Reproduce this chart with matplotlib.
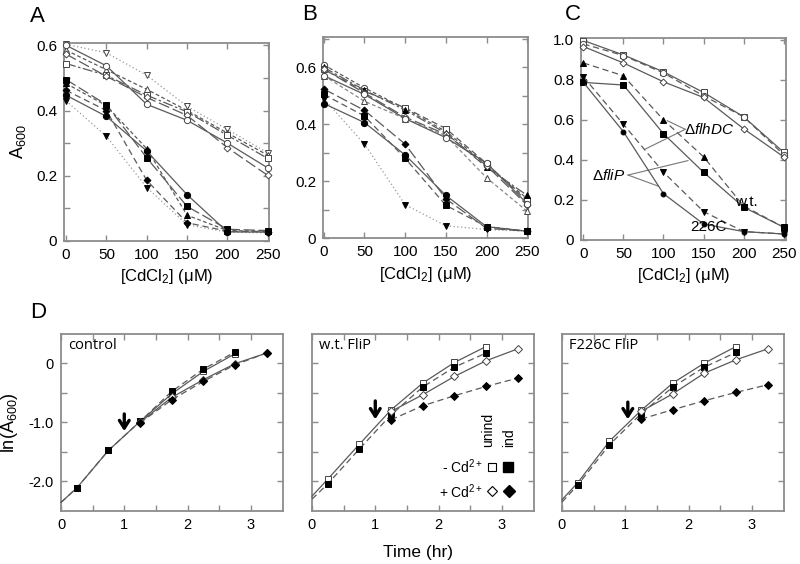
import matplotlib
matplotlib.use('Agg')
import matplotlib.pyplot as plt

plt.rcParams['font.family'] = ['Liberation Sans', 'DejaVu Sans']
plt.rcParams['mathtext.fontset'] = 'custom'
plt.rcParams['mathtext.rm'] = 'Liberation Sans'
plt.rcParams['mathtext.it'] = 'Liberation Sans:italic'
plt.rcParams['mathtext.bf'] = 'Liberation Sans:bold'

# ---------------- data ----------------
cd_conc = [0, 50, 100, 150, 200, 250]
cd_ticks = [0, 50, 100, 150, 200, 250]

# Panel A
A_open_circle = [0.600, 0.537, 0.419, 0.370, 0.300, 0.224]
A_open_square = [0.544, 0.508, 0.447, 0.396, 0.324, 0.253]
A_open_tridown = [0.603, 0.577, 0.508, 0.413, 0.342, 0.270]
A_open_triup = [0.585, 0.525, 0.465, 0.400, 0.331, 0.263]
A_open_diamond = [0.573, 0.505, 0.440, 0.385, 0.286, 0.201]
A_fill_circle = [0.447, 0.382, 0.276, 0.142, 0.028, 0.027]
A_fill_square = [0.495, 0.418, 0.255, 0.106, 0.036, 0.032]
A_fill_triup = [0.483, 0.415, 0.283, 0.079, 0.032, 0.030]
A_fill_diamond = [0.462, 0.400, 0.186, 0.056, 0.030, 0.029]
A_fill_tridown = [0.430, 0.321, 0.164, 0.050, 0.027, 0.025]

# Panel B
B_open_circle = [0.571, 0.505, 0.420, 0.353, 0.264, 0.121]
B_open_square = [0.594, 0.516, 0.458, 0.385, 0.262, 0.130]
B_open_circle2 = [0.609, 0.528, 0.455, 0.375, 0.258, 0.138]
B_open_triup = [0.571, 0.481, 0.420, 0.360, 0.212, 0.094]
B_open_diamond = [0.594, 0.510, 0.425, 0.365, 0.255, 0.115]
B_fill_triup_hi = [0.600, 0.520, 0.450, 0.369, 0.249, 0.150]
B_fill_circle = [0.473, 0.406, 0.292, 0.150, 0.040, 0.024]
B_fill_square = [0.505, 0.429, 0.280, 0.115, 0.040, 0.024]
B_fill_diamond = [0.524, 0.449, 0.330, 0.138, 0.034, 0.024]
B_fill_tridown = [0.490, 0.330, 0.117, 0.043, 0.030, 0.024]

# Panel C
C_open_square = [0.995, 0.923, 0.839, 0.736, 0.615, 0.438]
C_open_circle = [0.978, 0.920, 0.833, 0.719, 0.615, 0.426]
C_open_diamond = [0.965, 0.883, 0.789, 0.711, 0.555, 0.415]
C_fill_triup = [0.883, 0.819, 0.599, 0.415, 0.170, 0.064]
C_fill_square = [0.786, 0.773, 0.530, 0.338, 0.164, 0.064]
C_fill_tridown = [0.814, 0.577, 0.338, 0.142, 0.042, 0.030]
C_fill_circle = [0.786, 0.540, 0.231, 0.080, 0.042, 0.030]

# Panel D (ln A600 vs time); first value at t=0 is the curve start (no marker)
t_minus = [0, 0.25, 0.75, 1.25, 1.75, 2.25, 2.75]
t_plus = [1.25, 1.75, 2.25, 2.75, 3.25]

D_ctrl_unind_minus = [-2.355, -2.11, -1.476, -0.986, -0.52, -0.14, 0.158]
D_ctrl_ind_minus = [-2.355, -2.11, -1.476, -0.986, -0.479, -0.101, 0.186]
D_ctrl_unind_plus = [-1.00, -0.58, -0.28, -0.01, 0.17]
D_ctrl_ind_plus = [-1.01, -0.62, -0.31, -0.028, 0.17]

D_wt_unind_minus = [-2.25, -1.96, -1.37, -0.79, -0.338, 0.01, 0.28]
D_wt_ind_minus = [-2.30, -2.04, -1.45, -0.873, -0.405, -0.068, 0.169]
D_wt_unind_plus = [-0.817, -0.535, -0.226, 0.039, 0.24]
D_wt_ind_plus = [-0.958, -0.721, -0.552, -0.395, -0.254]

D_f226_unind_minus = [-2.31, -2.02, -1.32, -0.80, -0.338, 0.0, 0.28]
D_f226_ind_minus = [-2.35, -2.06, -1.38, -0.856, -0.405, -0.068, 0.18]
D_f226_unind_plus = [-0.817, -0.52, -0.17, 0.056, 0.24]
D_f226_ind_plus = [-0.946, -0.788, -0.636, -0.495, -0.367]

time_ticks = [0, 1, 2, 3]
ln_ticks = [0, -1.0, -2.0]
ln_tick_labels = ['0', '-1.0', '-2.0']
cd_addition_time = [1.0, 1.0, 1.04]

# ---------------- styling helpers ----------------
W, H = 800, 564
fig = plt.figure(figsize=(8, 5.64), dpi=100)

SPINE = '#8c8c8c'
LINE = '#5a5a5a'
LS = {
    'solid': '-',
    'dash': (0, (5, 3)),
    'long': (0, (9, 3)),
    'short': (0, (3, 2)),
    'dot': (0, (1, 2)),
    'dashdot': (0, (8, 2, 2, 2)),
}


def ax_px(l, r, t, b):
    return fig.add_axes([l / W, 1 - b / H, (r - l) / W, (b - t) / H])


def frame(ax):
    for s in ax.spines.values():
        s.set_color(SPINE)
        s.set_linewidth(1.3)
    ax.tick_params(which='both', direction='in', top=True, right=True,
                   length=4, width=1.0, color=SPINE, pad=5)


def series(ax, x, y, marker, filled, ls, ms=4.5, color=LINE, markevery=None, lw=0.9):
    ax.plot(x, y, linestyle=LS[ls], color=color, lw=lw, marker=marker,
            ms=ms, mfc='black' if filled else 'white',
            mec='black' if filled else '#444444', mew=0.7,
            markevery=markevery, clip_on=False, zorder=3)


def style_top(ax, xlim, ylim, yticks, ylabels):
    frame(ax)
    ax.set_xlim(*xlim)
    ax.set_ylim(*ylim)
    ax.set_xticks(cd_ticks)
    ax.set_xticklabels([str(v) for v in cd_ticks], fontsize=11)
    ax.set_yticks(yticks)
    ax.set_yticklabels(ylabels, fontsize=11)
    ax.set_xlabel('[CdCl$_2$] (μM)', fontsize=12, labelpad=4)


# ---------------- Panel A ----------------
axA = ax_px(64, 269, 43, 241)
series(axA, cd_conc, A_open_tridown, 'v', False, 'dot', color='#999999')
series(axA, cd_conc, A_open_triup, '^', False, 'short')
series(axA, cd_conc, A_open_square, 's', False, 'dashdot')
series(axA, cd_conc, A_open_diamond, 'D', False, 'long', ms=3.5)
series(axA, cd_conc, A_open_circle, 'o', False, 'solid')
series(axA, cd_conc, A_fill_tridown, 'v', True, 'dot', color='#999999')
series(axA, cd_conc, A_fill_diamond, 'D', True, 'dash', ms=3.5)
series(axA, cd_conc, A_fill_triup, '^', True, 'short')
series(axA, cd_conc, A_fill_square, 's', True, 'long')
series(axA, cd_conc, A_fill_circle, 'o', True, 'solid')
style_top(axA, (-2.5, 251.5), (0, 0.607), [0, 0.1, 0.2, 0.3, 0.4, 0.5, 0.6],
          ['0', '', '0.2', '', '0.4', '', '0.6'])
axA.set_ylabel('A$_{600}$', fontsize=13, labelpad=6)

# ---------------- Panel B ----------------
axB = ax_px(323, 528, 37, 238)
series(axB, cd_conc, B_open_circle2, 'o', False, 'short')
series(axB, cd_conc, B_open_square, 's', False, 'dash')
series(axB, cd_conc, B_fill_triup_hi, '^', True, 'dashdot')
series(axB, cd_conc, B_open_diamond, 'D', False, 'long', ms=3.5)
series(axB, cd_conc, B_open_triup, '^', False, 'short', color='#888888')
series(axB, cd_conc, B_open_circle, 'o', False, 'solid')
series(axB, cd_conc, B_fill_tridown, 'v', True, 'dot', color='#999999')
series(axB, cd_conc, B_fill_diamond, 'D', True, 'long', ms=3.5)
series(axB, cd_conc, B_fill_square, 's', True, 'dash')
series(axB, cd_conc, B_fill_circle, 'o', True, 'solid')
style_top(axB, (-1, 251), (0, 0.707), [0, 0.1, 0.2, 0.3, 0.4, 0.5, 0.6, 0.7],
          ['0', '', '0.2', '', '0.4', '', '0.6', ''])

# ---------------- Panel C ----------------
axC = ax_px(581, 786, 37.5, 240)
series(axC, cd_conc, C_open_square, 's', False, 'solid')
series(axC, cd_conc, C_open_circle, 'o', False, 'dash')
series(axC, cd_conc, C_open_diamond, 'D', False, 'solid', ms=3.5)
series(axC, cd_conc, C_fill_triup, '^', True, 'dash')
series(axC, cd_conc, C_fill_square, 's', True, 'solid')
series(axC, cd_conc, C_fill_tridown, 'v', True, 'dash')
series(axC, cd_conc, C_fill_circle, 'o', True, 'solid', ms=3.5)
style_top(axC, (-3, 253), (0, 1.01), [0, 0.2, 0.4, 0.6, 0.8, 1.0],
          ['0', '0.2', '0.4', '0.6', '0.8', '1.0'])
ann_kw = dict(color='#777777', lw=0.8)
axC.plot([127.2, 104.8], [0.552, 0.595], **ann_kw)
axC.plot([127.2, 76.5], [0.552, 0.452], **ann_kw)
axC.plot([55.7, 130.6], [0.324, 0.396], **ann_kw)
axC.plot([55.7, 93.2], [0.324, 0.269], **ann_kw)
axC.text(125.5, 0.549, r'$\Delta\mathit{flhDC}$', fontsize=11, ha='left', va='center')
axC.text(52, 0.324, r'$\Delta\mathit{fliP}$', fontsize=11, ha='right', va='center')
axC.text(189, 0.19, 'w.t.', fontsize=11, ha='left', va='center')
axC.text(133, 0.065, '226C', fontsize=11, ha='left', va='center')

# panel letters
fig.text(37 / W, 1 - 16 / H, 'A', fontsize=16, ha='center', va='center')
fig.text(310 / W, 1 - 14 / H, 'B', fontsize=16, ha='center', va='center')
fig.text(573 / W, 1 - 14 / H, 'C', fontsize=16, ha='center', va='center')
fig.text(38 / W, 1 - 313 / H, 'D', fontsize=16, ha='center', va='center')

# ---------------- Panel D ----------------
D_sets = [
    ('control', D_ctrl_unind_minus, D_ctrl_ind_minus, D_ctrl_unind_plus, D_ctrl_ind_plus, 61),
    ('w.t. FliP', D_wt_unind_minus, D_wt_ind_minus, D_wt_unind_plus, D_wt_ind_plus, 312),
    ('F226C FliP', D_f226_unind_minus, D_f226_ind_minus, D_f226_unind_plus, D_f226_ind_plus, 562),
]
arrow_tops = [-0.86, -0.64, -0.66]
arrow_bottoms = [-1.15, -0.95, -0.95]

d_axes = []
for i, (title, um, im, up, ip, left) in enumerate(D_sets):
    ax = ax_px(left, left + 221.5, 333.5, 511)
    d_axes.append(ax)
    frame(ax)
    series(ax, t_minus, um, 's', False, 'solid', ms=5, markevery=list(range(1, len(t_minus))))
    series(ax, t_minus, im, 's', True, 'dash', ms=5, markevery=list(range(1, len(t_minus))))
    series(ax, t_plus, up, 'D', False, 'solid', ms=3.8)
    series(ax, t_plus, ip, 'D', True, 'dash', ms=3.8)
    ax.set_xlim(0, 3.5)
    ax.set_ylim(-2.5, 0.5)
    ax.set_xticks([0, 0.5, 1, 1.5, 2, 2.5, 3])
    ax.set_xticklabels(['0', '', '1', '', '2', '', '3'], fontsize=10.5)
    ax.set_yticks([0, -0.5, -1.0, -1.5, -2.0])
    if i == 0:
        ax.set_yticklabels(['0', '', '-1.0', '', '-2.0'], fontsize=10.5)
        ax.set_ylabel('ln(A$_{600}$)', fontsize=13, labelpad=6)
    else:
        ax.set_yticklabels([])
    ax.text(0.03, 0.93, title, transform=ax.transAxes, fontsize=10.5,
            family=['Open Sans', 'DejaVu Sans'], ha='left', va='center')
    ax.annotate('', xy=(cd_addition_time[i], arrow_bottoms[i]),
                xytext=(cd_addition_time[i], arrow_tops[i]),
                arrowprops=dict(arrowstyle='->,head_length=0.55,head_width=0.35',
                                lw=2.4, color='black', shrinkA=0, shrinkB=0))

# legend inside w.t. panel
axw = d_axes[1]
axw.text(2.79, -1.42, 'unind', rotation=90, ha='center', va='bottom', fontsize=10)
axw.text(3.11, -1.42, 'ind', rotation=90, ha='center', va='bottom', fontsize=10)
axw.text(2.70, -1.757, '- Cd$^{2+}$', ha='right', va='center', fontsize=10)
axw.text(2.70, -2.17, '+ Cd$^{2+}$', ha='right', va='center', fontsize=10)
axw.plot([2.84], [-1.757], 's', ms=5.5, mfc='white', mec='black', mew=0.8)
axw.plot([3.10], [-1.757], 's', ms=6.5, mfc='black', mec='black')
axw.plot([2.84], [-2.17], 'D', ms=5, mfc='white', mec='black', mew=0.8)
axw.plot([3.11], [-2.17], 'D', ms=6, mfc='black', mec='black')

fig.text(418 / W, 1 - 552 / H, 'Time (hr)', fontsize=12.5, ha='center', va='center')

fig.savefig('out.png', dpi=100)
